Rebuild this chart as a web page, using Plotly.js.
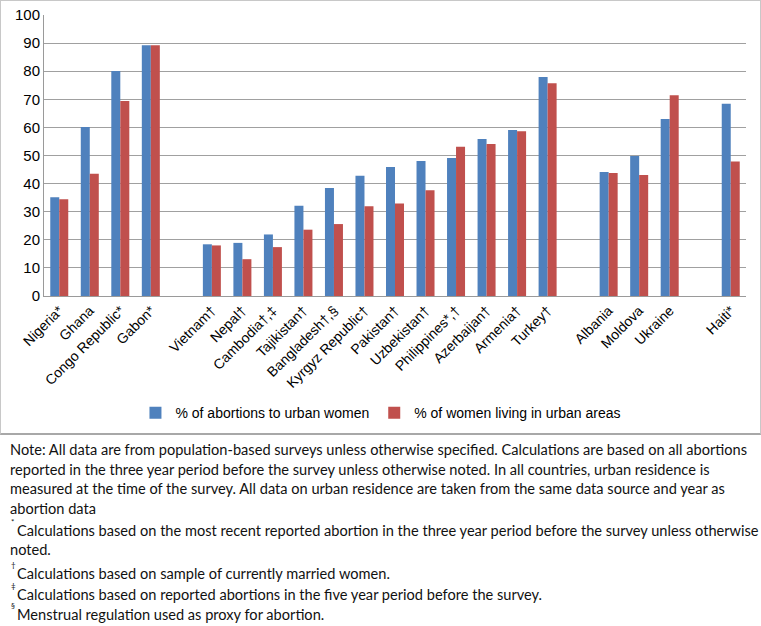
<!DOCTYPE html>
<html>
<head>
<meta charset="utf-8">
<script src="https://cdn.plot.ly/plotly-3.0.1.min.js"></script>
<style>
  body { margin: 0; background: #fff; }
  #chart { width: 759px; height: 432px; border: 1px solid #c8c8c8; border-bottom: 2px solid #a8a8a8; }
  #notes { font-family: Lato, "Open Sans", sans-serif; font-size: 14.6px; color: #111;
           padding: 5px 0 0 10px; }
  #notes .para { line-height: 19.5px; }
  #notes .fn { line-height: 19px; margin-top: 3px; position: relative; text-indent: 7px; }
  #notes .sym { position: absolute; left: 1px; top: -3px; font-size: 8px; line-height: 8px; text-indent: 0; }
</style>
</head>
<body>
<div id="chart"></div>
<div id="notes">
  <div class="para">Note: All data are from population-based surveys unless otherwise specified. Calculations are based on all abortions reported in the three year period before the survey unless otherwise noted. In all countries, urban residence is measured at the time of the survey. All data on urban residence are taken from the same data source and year as abortion data</div>
  <div class="fn"><span class="sym">*</span>Calculations based on the most recent reported abortion in the three year period before the survey unless otherwise noted.</div>
  <div class="fn" style="margin-top:5px"><span class="sym">†</span>Calculations based on sample of currently married women.</div>
  <div class="fn" style="margin-top:2px"><span class="sym">‡</span>Calculations based on reported abortions in the five year period before the survey.</div>
  <div class="fn" style="margin-top:1px"><span class="sym">§</span>Menstrual regulation used as proxy for abortion.</div>
</div>
<script>
// blank strings are the spacer slots between country groups
var countries = ['Nigeria*', 'Ghana', 'Congo Republic*', 'Gabon*', ' ',
  'Vietnam†', 'Nepal†', 'Cambodia†,‡', 'Tajikistan†', 'Bangladesh†,§', 'Kyrgyz Republic†',
  'Pakistan†', 'Uzbekistan†', 'Philippines*,†', 'Azerbaijan†', 'Armenia†', 'Turkey†', '  ',
  'Albania', 'Moldova', 'Ukraine', '   ', 'Haiti*'];

var abortionsUrban = [35.1, 60.1, 80.1, 89.2, null,
  18.4, 18.9, 21.9, 32.1, 38.4, 42.8, 45.9, 48.0, 49.1, 55.9, 59.1, 77.9, null,
  44.1, 49.8, 63.0, null, 68.4];

var womenUrban = [34.4, 43.5, 69.4, 89.2, null,
  18.0, 13.1, 17.4, 23.6, 25.6, 31.9, 32.9, 37.6, 53.1, 54.1, 58.6, 75.7, null,
  43.8, 43.1, 71.4, null, 47.9];

var trace1 = {
  x: countries,
  y: abortionsUrban,
  type: 'bar',
  name: '% of abortions to urban women',
  marker: {color: '#4F81BD'}
};
var trace2 = {
  x: countries,
  y: womenUrban,
  type: 'bar',
  name: '% of women living in urban areas',
  marker: {color: '#C0504D'}
};

var layout = {
  width: 759,
  height: 432,
  margin: {l: 43, r: 14, t: 14, b: 137},
  barmode: 'group',
  bargap: 0.41,
  bargroupgap: 0,
  font: {family: 'Liberation Sans, Arial, sans-serif', size: 14, color: '#000'},
  xaxis: {
    type: 'category',
    tickangle: -45,
    automargin: false,
    showgrid: false,
    showline: true,
    linecolor: '#9a9a9a',
    ticks: '',
    tickfont: {size: 14}
  },
  yaxis: {
    range: [0, 100],
    dtick: 10,
    automargin: false,
    showgrid: true,
    gridcolor: '#a0a0a0',
    showline: true,
    linecolor: '#9a9a9a',
    zeroline: false,
    ticks: '',
    tickfont: {size: 15}
  },
  showlegend: true,
  legend: {
    orientation: 'h',
    x: 0.48,
    xanchor: 'center',
    yref: 'container',
    y: 0.046,
    yanchor: 'middle',
    bgcolor: 'rgba(0,0,0,0)',
    font: {size: 14}
  },
  plot_bgcolor: '#fff',
  paper_bgcolor: '#fff'
};

let config = {displayModeBar: false, responsive: false};
Plotly.newPlot('chart', [trace1, trace2], layout, config);
</script>
</body>
</html>
